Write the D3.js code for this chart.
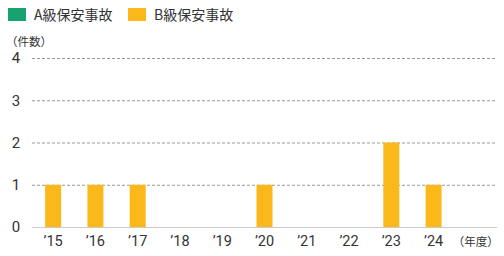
<!DOCTYPE html>
<html lang="ja">
<head>
<meta charset="utf-8">
<title>保安事故件数</title>
<style>
  body { margin: 0; background: #fff; font-family: "Noto Sans CJK JP", "Noto Sans", sans-serif; }
  svg text { fill: #333; }
</style>
</head>
<body>
<svg id="chart"></svg>
<script src="https://d3js.org/d3.v7.min.js"></script>
<script>
const years = ["’15", "’16", "’17", "’18", "’19", "’20", "’21", "’22", "’23", "’24"];
const unitLabel = "（年度）";
const seriesNames = ["A級保安事故", "B級保安事故"];
const seriesColors = ["#17a26f", "#fbb81b"];
const aValues = [0, 0, 0, 0, 0, 0, 0, 0, 0, 0];
const bValues = [1, 1, 1, 0, 0, 1, 0, 0, 2, 1];
const yTicks = [0, 1, 2, 3, 4];

const width = 504, height = 256;
const svg = d3.select("#chart").attr("width", width).attr("height", height);

const x = d3.scaleBand()
  .domain(years.concat([unitLabel]))
  .range([32, 497]);

const y = d3.scaleLinear().domain([0, 4]).range([227, 58]);

// legend
const legend = svg.append("g");
seriesNames.forEach((name, i) => {
  const lx = i === 0 ? 8 : 128;
  legend.append("rect").attr("x", lx).attr("y", 8).attr("width", 18).attr("height", 13)
    .attr("fill", seriesColors[i]);
  legend.append("text").attr("x", lx + 26).attr("y", 20).attr("font-size", 14).text(name);
});

svg.append("text").attr("x", 6).attr("y", 46).attr("font-size", 11.5).text("（件数）");

// grid
svg.append("g").selectAll("line")
  .data(yTicks.filter(d => d > 0))
  .join("line")
  .attr("x1", 32).attr("x2", 497)
  .attr("y1", d => y(d) + 0.5).attr("y2", d => y(d) + 0.5)
  .attr("stroke", "#999").attr("stroke-width", 1).attr("stroke-dasharray", "3,2");

svg.append("line").attr("x1", 32).attr("x2", 497)
  .attr("y1", y(0) + 0.5).attr("y2", y(0) + 0.5)
  .attr("stroke", "#ccc").attr("stroke-width", 1);

// y labels
svg.append("g").selectAll("text")
  .data(yTicks)
  .join("text")
  .attr("x", 16).attr("y", d => y(d))
  .attr("dy", "0.36em").attr("text-anchor", "middle")
  .attr("font-size", 15).attr("font-family", "Roboto, sans-serif")
  .text(d => d);

// bars
const barW = 16;
svg.append("g").selectAll("rect")
  .data(years.map((yr, i) => ({ yr, v: bValues[i] })).filter(d => d.v > 0))
  .join("rect")
  .attr("x", d => x(d.yr) + x.bandwidth() / 2 - barW / 2)
  .attr("y", d => y(d.v))
  .attr("width", barW)
  .attr("height", d => y(0) - y(d.v))
  .attr("fill", seriesColors[1]);

// x labels
svg.append("g").selectAll("text")
  .data(x.domain())
  .join("text")
  .attr("x", d => x(d) + x.bandwidth() / 2)
  .attr("y", 246)
  .attr("text-anchor", "middle")
  .attr("font-size", d => d === unitLabel ? 11.5 : 14.5)
  .attr("font-family", d => d === unitLabel ? null : "Roboto, sans-serif")
  .text(d => d);
</script>
</body>
</html>
